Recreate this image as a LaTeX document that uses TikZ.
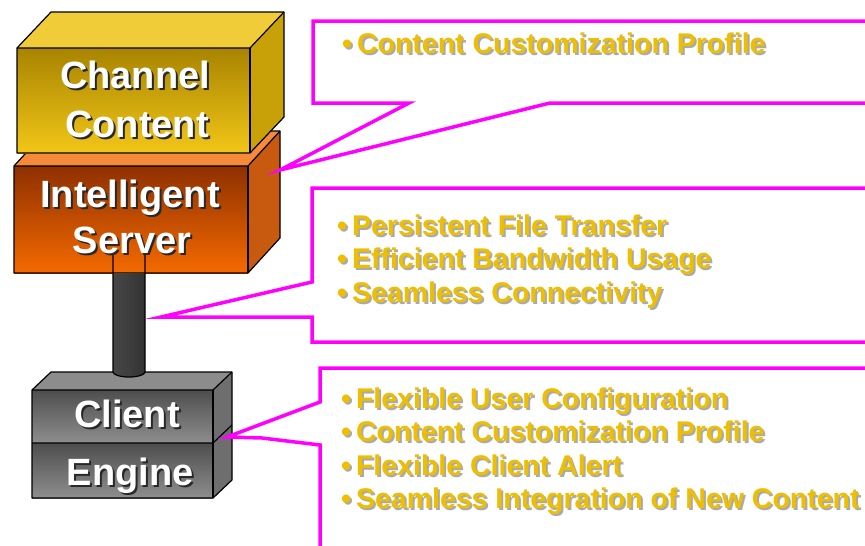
\documentclass[tikz,border=0pt]{standalone}
\usepackage{fontspec}
\setmainfont{Liberation Sans}
\definecolor{calloutpink}{RGB}{255,0,255}
\definecolor{listgold}{RGB}{238,190,0}
\definecolor{listshade}{RGB}{170,170,170}
\definecolor{labelshade}{RGB}{40,40,40}
\definecolor{chanfronttop}{RGB}{168,132,0}
\definecolor{chanfrontbot}{RGB}{242,198,24}
\definecolor{chantop}{RGB}{240,204,56}
\definecolor{chanright}{RGB}{200,160,8}
\definecolor{srvfronttop}{RGB}{142,48,0}
\definecolor{srvfrontbot}{RGB}{245,106,0}
\definecolor{srvtop}{RGB}{245,138,58}
\definecolor{srvright}{RGB}{200,90,16}
\definecolor{clifronttop}{RGB}{78,78,78}
\definecolor{clifrontbot}{RGB}{142,142,142}
\definecolor{clitop}{RGB}{140,140,140}
\definecolor{cliright}{RGB}{110,110,110}
% text with a drop shadow behind it
\newcommand\dropped[2]{\rlap{\kern2pt\raisebox{-2pt}{\textcolor{#1}{#2}}}#2}
\begin{document}
\begin{tikzpicture}[x=1pt, y=-1pt, line width=1.2pt, line join=round,
  boxtext/.style={text=white, font=\fontsize{38}{40}\selectfont\bfseries, anchor=base, inner sep=0pt},
  listtext/.style={text=listgold, font=\fontsize{28.5}{30}\selectfont\bfseries, anchor=base west, inner sep=0pt},
  callout/.style={draw=calloutpink, line width=3.5pt, line join=miter}]
\useasboundingbox (0,0) rectangle (865,546);
\clip (0,0) rectangle (865,546);

% client engine box
\fill[clitop] (32,390) -- (51,372) -- (232,372) -- (213,390) -- cycle;
\fill[cliright] (213,390) -- (232,372) -- (232,480) -- (213,498) -- cycle;
\shade[top color=clifronttop, bottom color=clifrontbot] (32,390) rectangle (213,443);
\shade[top color=clifronttop, bottom color=clifrontbot] (32,443) rectangle (213,498);
\draw (32,390) -- (51,372) -- (232,372) -- (232,480) -- (213,498) -- (32,498) -- cycle;
\draw (32,390) -- (213,390) -- (232,372);
\draw (213,390) -- (213,498);
\draw (32,443) -- (213,443) -- (232,425);

% intelligent server box
\fill[srvtop] (14,166) -- (46,131) -- (280,131) -- (248,166) -- cycle;
\fill[srvright] (248,166) -- (280,131) -- (280,238) -- (248,273) -- cycle;
\shade[top color=srvfronttop, bottom color=srvfrontbot] (14,166) rectangle (248,273);
\draw (14,166) -- (46,131) -- (280,131) -- (280,238) -- (248,273) -- (14,273) -- cycle;
\draw (14,166) -- (248,166) -- (280,131);
\draw (248,166) -- (248,273);

% pole
\shade[left color=black!72, middle color=black!50, right color=black!80]
  (113,273) -- (113,372) arc[start angle=180, end angle=0, x radius=16, y radius=5] -- (145,273) -- cycle;
\draw (113,250) -- (113,372) arc[start angle=180, end angle=0, x radius=16, y radius=5] -- (145,250);

% channel content box
\fill[chantop] (17,48) -- (51,12) -- (284,12) -- (250,48) -- cycle;
\fill[chanright] (250,48) -- (284,12) -- (284,117) -- (250,153) -- cycle;
\shade[top color=chanfronttop, bottom color=chanfrontbot] (17,48) rectangle (250,153);
\draw (17,48) -- (51,12) -- (284,12) -- (284,117) -- (250,153) -- (17,153) -- cycle;
\draw (17,48) -- (250,48) -- (284,12);
\draw (250,48) -- (250,153);

% box labels
\node[boxtext] (chan1) at (135,88) {\dropped{labelshade}{Channel}};
\node[boxtext] (chan2) at (137,137) {\dropped{labelshade}{Content}};
\node[boxtext] (srv1) at (130,207) {\dropped{labelshade}{Intelligent}};
\node[boxtext] (srv2) at (132,253) {\dropped{labelshade}{Server}};
\node[boxtext] (cli1) at (127,427) {\dropped{labelshade}{Client}};
\node[boxtext] (cli2) at (130,485) {\dropped{labelshade}{Engine}};

% callout tips
\coordinate (chantip) at (280,170);
\coordinate (srvtip) at (161,317);
\coordinate (clitip) at (227,437);

% callouts
\draw[callout] (870,21) -- (313,21) -- (313,103) -- (409,103) -- (chantip) -- (550,103) -- (870,103);
\draw[callout] (870,188) -- (312,188) -- (312,282) -- (srvtip) -- (312,317) -- (312,342) -- (870,342);
\draw[callout] (870,368) -- (320,368) -- (320,402) -- (clitip) -- (262,438) -- (320,445) -- (320,550);

% callout texts
\node[listtext] (prof) at (341.5,53) {\dropped{listshade}{•\hspace{5pt}Content Customization Profile}};
\node[listtext] (file) at (336.5,235) {\dropped{listshade}{•\hspace{5pt}Persistent File Transfer}};
\node[listtext] (band) at (336.5,268.5) {\dropped{listshade}{•\hspace{5pt}Efficient Bandwidth Usage}};
\node[listtext] (conn) at (336.5,302) {\dropped{listshade}{•\hspace{5pt}Seamless Connectivity}};
\node[listtext] (conf) at (340.5,408) {\dropped{listshade}{•\hspace{5pt}Flexible User Configuration}};
\node[listtext] (cust) at (340.5,441.5) {\dropped{listshade}{•\hspace{5pt}Content Customization Profile}};
\node[listtext] (alert) at (340.5,475) {\dropped{listshade}{•\hspace{5pt}Flexible Client Alert}};
\node[listtext] (integ) at (340.5,508.5) {\dropped{listshade}{•\hspace{5pt}Seamless Integration of New Content}};
\end{tikzpicture}
\end{document}
